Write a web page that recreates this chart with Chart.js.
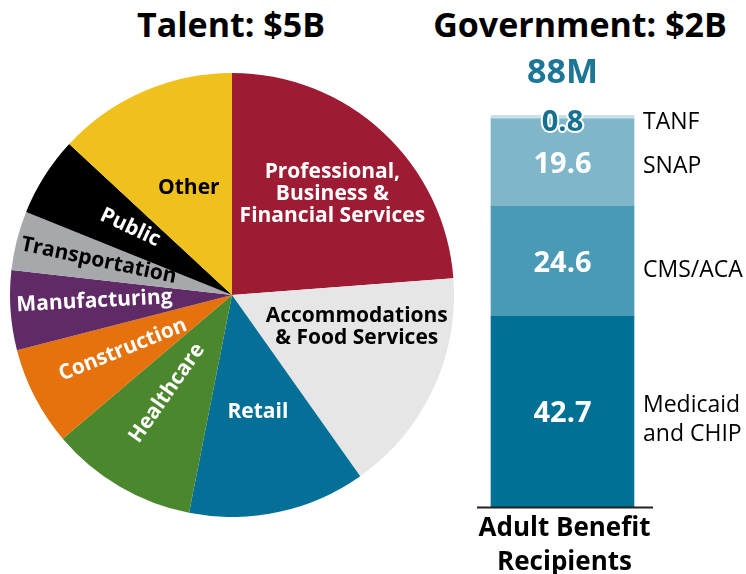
<!DOCTYPE html>
<html>
<head>
<meta charset="utf-8">
<script src="https://cdn.jsdelivr.net/npm/chart.js@4.4.1/dist/chart.umd.min.js"></script>
<style>
  html, body { margin: 0; padding: 0; background: #fff; }
  body { width: 746px; height: 574px; position: relative; overflow: hidden; font-family: "Open Sans", sans-serif; }
  .title { position: absolute; top: 0; font-weight: 700; font-size: 34px; color: #000; white-space: nowrap; transform: translateX(-50%); line-height: 48px; }
  #pieWrap { position: absolute; left: 10px; top: 73px; width: 444px; height: 444px; }
  #barWrap { position: absolute; left: 470px; top: 50px; width: 276px; height: 524px; }
</style>
</head>
<body>
<div class="title" style="left:231px">Talent: $5B</div>
<div class="title" style="left:580px">Government: $2B</div>
<div id="pieWrap"><canvas id="talentPie" width="444" height="444"></canvas></div>
<div id="barWrap"><canvas id="govBar" width="276" height="524"></canvas></div>

<script>
// Talent spending by sector (share of $5B, percent)
const sectors = ['Professional, Business & Financial Services', 'Accommodations & Food Services', 'Retail',
  'Healthcare', 'Construction', 'Manufacturing', 'Transportation', 'Public', 'Other'];
const sectorShares = [23.8, 16.4, 12.9, 10.7, 7.2, 5.8, 4.3, 5.8, 13.1];

// Adult benefit recipients by program (millions)
const programs = ['Medicaid and CHIP', 'CMS/ACA', 'SNAP', 'TANF'];
const recipients = [42.7, 24.6, 19.6, 0.8];
const barCategory = ['Adult Benefit Recipients'];

const sectorColors = ['#9d1b33', '#e6e6e6', '#047097', '#4b872d', '#e5720c', '#5f2a65', '#a6a8ab', '#000000', '#f0c01c'];
const programColors = ['#007094', '#4b9ab5', '#7fb6ca', '#c6e1ea'];

// how each sector label sits inside its slice
const pieLabelStyle = [
  { lines: ['Professional,', 'Business &', 'Financial Services'], color: '#fff', da: 2.1, r: 0.64, rot: 0 },
  { lines: ['Accommodations', '& Food Services'], color: '#000', da: -10.9, r: 0.58, rot: 0 },
  { lines: ['Retail'], color: '#fff', da: -0.4, r: 0.54, rot: 0 },
  { lines: ['Healthcare'], color: '#fff', da: 3.1, r: 0.53, rot: -55 },
  { lines: ['Construction'], color: '#fff', da: 0.7, r: 0.55, rot: -22 },
  { lines: ['Manufacturing'], color: '#fff', da: 1.4, r: 0.62, rot: -3 },
  { lines: ['Transportation'], color: '#000', da: 0.2, r: 0.62, rot: 12 },
  { lines: ['Public'], color: '#fff', da: 1.1, r: 0.55, rot: 25 },
  { lines: ['Other'], color: '#000', da: 1.6, r: 0.52, rot: 0 }
];

const programLabelShift = [6, 7, 2, 0];

const pieLabels = {
  id: 'pieLabels',
  afterDatasetsDraw(chart) {
    const ctx = chart.ctx;
    const arcs = chart.getDatasetMeta(0).data;
    ctx.save();
    ctx.font = '700 21px "Open Sans"';
    ctx.textAlign = 'center';
    ctx.textBaseline = 'middle';
    arcs.forEach((arc, i) => {
      const s = pieLabelStyle[i];
      const mid = (arc.startAngle + arc.endAngle) / 2 + s.da * Math.PI / 180;
      const rad = arc.outerRadius * s.r;
      const x = arc.x + rad * Math.cos(mid);
      const y = arc.y + rad * Math.sin(mid);
      ctx.save();
      ctx.translate(x, y);
      ctx.rotate(s.rot * Math.PI / 180);
      ctx.fillStyle = s.color;
      const lh = 22;
      s.lines.forEach((line, k) => {
        ctx.fillText(line, 0, (k - (s.lines.length - 1) / 2) * lh);
      });
      ctx.restore();
    });
    ctx.restore();
  }
};

const barLabels = {
  id: 'barLabels',
  afterDatasetsDraw(chart) {
    const ctx = chart.ctx;
    const area = chart.chartArea;
    ctx.save();
    let top = area.bottom;
    let barX = 0;
    chart.data.datasets.forEach((ds, i) => {
      const bar = chart.getDatasetMeta(i).data[0];
      barX = bar.x;
      top = Math.min(top, bar.y);
      const small = Math.abs(bar.base - bar.y) < 20;
      const cy = small ? bar.y + 7 : (bar.y + bar.base) / 2 + 2;
      // value inside the segment
      ctx.font = '700 29px "Open Sans"';
      ctx.textAlign = 'center';
      ctx.textBaseline = 'middle';
      const txt = ds.data[0].toFixed(1);
      if (small) {
        ctx.lineWidth = 4;
        ctx.lineJoin = 'round';
        ctx.strokeStyle = '#ffffff';
        ctx.strokeText(txt, bar.x, cy);
        ctx.fillStyle = '#16708f';
      } else {
        ctx.fillStyle = '#ffffff';
      }
      ctx.fillText(txt, bar.x, cy);
      // program name to the right
      ctx.font = '400 23px "Open Sans"';
      ctx.textAlign = 'left';
      ctx.fillStyle = '#000';
      const words = ds.label === 'Medicaid and CHIP' ? ['Medicaid', 'and CHIP'] : [ds.label];
      const ly = cy + programLabelShift[i];
      words.forEach((w, k) => {
        ctx.fillText(w, bar.x + bar.width / 2 + 9, ly + (k - (words.length - 1) / 2) * 29);
      });
    });
    // total above the stack
    const total = recipients.reduce((a, b) => a + b, 0);
    ctx.font = '700 34px "Open Sans"';
    ctx.textAlign = 'center';
    ctx.textBaseline = 'middle';
    ctx.fillStyle = '#1c7797';
    ctx.fillText(Math.round(total) + 'M', barX, top - 42);
    // baseline
    ctx.strokeStyle = '#222';
    ctx.lineWidth = 2;
    ctx.beginPath();
    ctx.moveTo(area.left, area.bottom + 0.5);
    ctx.lineTo(area.right + 5, area.bottom + 0.5);
    ctx.stroke();
    // category name below
    ctx.font = '700 26px "Open Sans"';
    ctx.fillStyle = '#000';
    ctx.fillText('Adult Benefit', barX + 2, area.bottom + 22);
    ctx.fillText('Recipients', barX + 2, area.bottom + 56);
    ctx.restore();
  }
};

function drawCharts() {
  new Chart(document.getElementById('talentPie'), {
    type: 'pie',
    data: {
      labels: sectors,
      datasets: [{
        data: sectorShares,
        backgroundColor: sectorColors,
        borderWidth: 0,
        hoverOffset: 0,
        offset: 0
      }]
    },
    options: {
      responsive: false,
      animation: false,
      devicePixelRatio: 1,
      layout: { padding: 0 },
      plugins: { legend: { display: false }, tooltip: { enabled: false } }
    },
    plugins: [pieLabels]
  });

  new Chart(document.getElementById('govBar'), {
    type: 'bar',
    data: {
      labels: barCategory,
      datasets: programs.map((p, i) => ({
        label: p,
        data: [recipients[i]],
        backgroundColor: programColors[i],
        borderWidth: 0,
        barThickness: 143
      }))
    },
    options: {
      responsive: false,
      animation: false,
      devicePixelRatio: 1,
      layout: { padding: { left: 7, right: 98, top: 55, bottom: 67 } },
      scales: {
        x: { stacked: true, display: false },
        y: { stacked: true, display: false, min: 0, max: 90 }
      },
      plugins: { legend: { display: false }, tooltip: { enabled: false } }
    },
    plugins: [barLabels]
  });
}

if (document.fonts && document.fonts.load) {
  Promise.all([
    document.fonts.load('700 20px "Open Sans"'),
    document.fonts.load('400 23px "Open Sans"')
  ]).then(drawCharts, drawCharts);
} else {
  drawCharts();
}
</script>
</body>
</html>
